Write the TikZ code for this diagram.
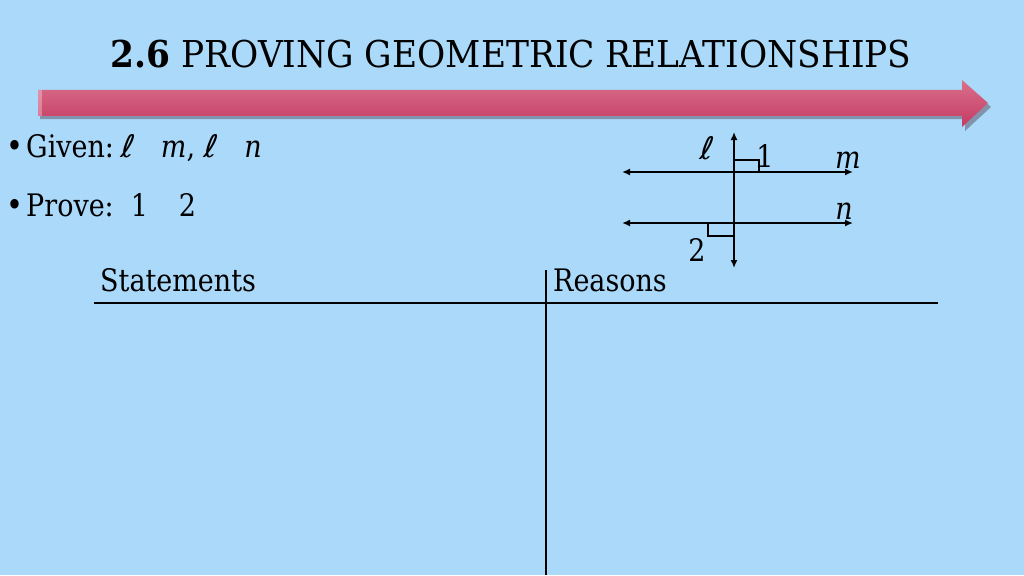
\documentclass[tikz,border=0pt]{standalone}
\usepackage{fontspec}
\setmainfont{DejaVu Serif}[FakeStretch=0.87]
\newfontfamily\titlefont{DejaVu Serif}[FakeStretch=0.93]
\newfontfamily\ellfont{DejaVu Sans}[FakeSlant=0.15]
\usetikzlibrary{arrows.meta}
\definecolor{bgblue}{HTML}{AAD9FA}
\definecolor{arrtop}{HTML}{D8708C}
\definecolor{arrbot}{HTML}{C63A62}
\definecolor{arrshadow}{HTML}{5A5060}
\newcommand{\ellsym}{{\ellfont ℓ}}
\tikzset{
  geoline/.style={line width=2pt, {Latex[length=8pt,width=7pt]}-{Latex[length=8pt,width=7pt]}},
  rtmark/.style={line width=1.2pt},
  tabline/.style={line width=1.5pt},
  body/.style={font=\fontsize{31}{36}\selectfont, inner sep=0pt, anchor=base west},
  lbl/.style={font=\fontsize{31}{36}\selectfont, inner sep=0pt}
}
\begin{document}
\begin{tikzpicture}[x=1pt,y=-1pt]
\useasboundingbox (0,0) rectangle (1024,575);
\fill[bgblue] (0,0) rectangle (1024,575);
% title
\node[inner sep=0pt, anchor=base, font=\titlefont\fontsize{37}{42}\selectfont] (title) at (511,68) {\textbf{2.6} PROVING GEOMETRIC RELATIONSHIPS};
% arrow shadow
\fill[arrshadow, opacity=0.5] (40,94) -- (965,94) -- (965,84) -- (991,107) -- (965,131) -- (965,119) -- (40,119) -- cycle;
% arrow
\shade[top color=arrtop, bottom color=arrbot] (38,90) -- (962,90) -- (962,80) -- (988,103) -- (962,127) -- (962,116) -- (38,116) -- cycle;
\fill[white, opacity=0.3] (38,90) rectangle (42,116);
% bullets
\node[body] (given) at (6,157) {{\fontsize{33}{33}\selectfont\textbullet}\hspace{0.1em}Given:\hspace{0.2em}\ellsym\hspace{0.9em}\textit{m}, \ellsym\hspace{0.9em}\textit{n}};
\node[body] (prove) at (6,216) {{\fontsize{33}{33}\selectfont\textbullet}\hspace{0.1em}Prove:\hspace{0.55em}1\hspace{1.0em}2};
% geometry
\coordinate (lt) at (734,132);
\coordinate (lb) at (734,268);
\coordinate (ml) at (622,172);
\coordinate (mr) at (853,172);
\coordinate (nl) at (622,223);
\coordinate (nr) at (853,223);
\draw[geoline] (lt) -- (lb);
\draw[geoline] (ml) -- (mr);
\draw[geoline] (nl) -- (nr);
\draw[rtmark] (734,160) -- (759,160) -- (759,172);
\draw[rtmark] (708,223) -- (708,236) -- (734,236);
\node[lbl] (lab-l) at (706,148) {\ellsym};
\node[lbl] (lab-1) at (765,156) {1};
\node[lbl, font=\fontsize{31}{36}\selectfont\itshape] (lab-m) at (848,160) {m};
\node[lbl, font=\fontsize{31}{36}\selectfont\itshape] (lab-n) at (844,211) {n};
\node[lbl] (lab-2) at (697,250) {2};
% table
\coordinate (hl) at (94,303);
\coordinate (hr) at (938,303);
\coordinate (vt) at (546,270);
\coordinate (vb) at (546,575);
\draw[tabline] (hl) -- (hr);
\draw[tabline] (vt) -- (vb);
\node[body] (stmts) at (100,291) {Statements};
\node[body] (reasons) at (553,291) {Reasons};
\end{tikzpicture}
\end{document}
